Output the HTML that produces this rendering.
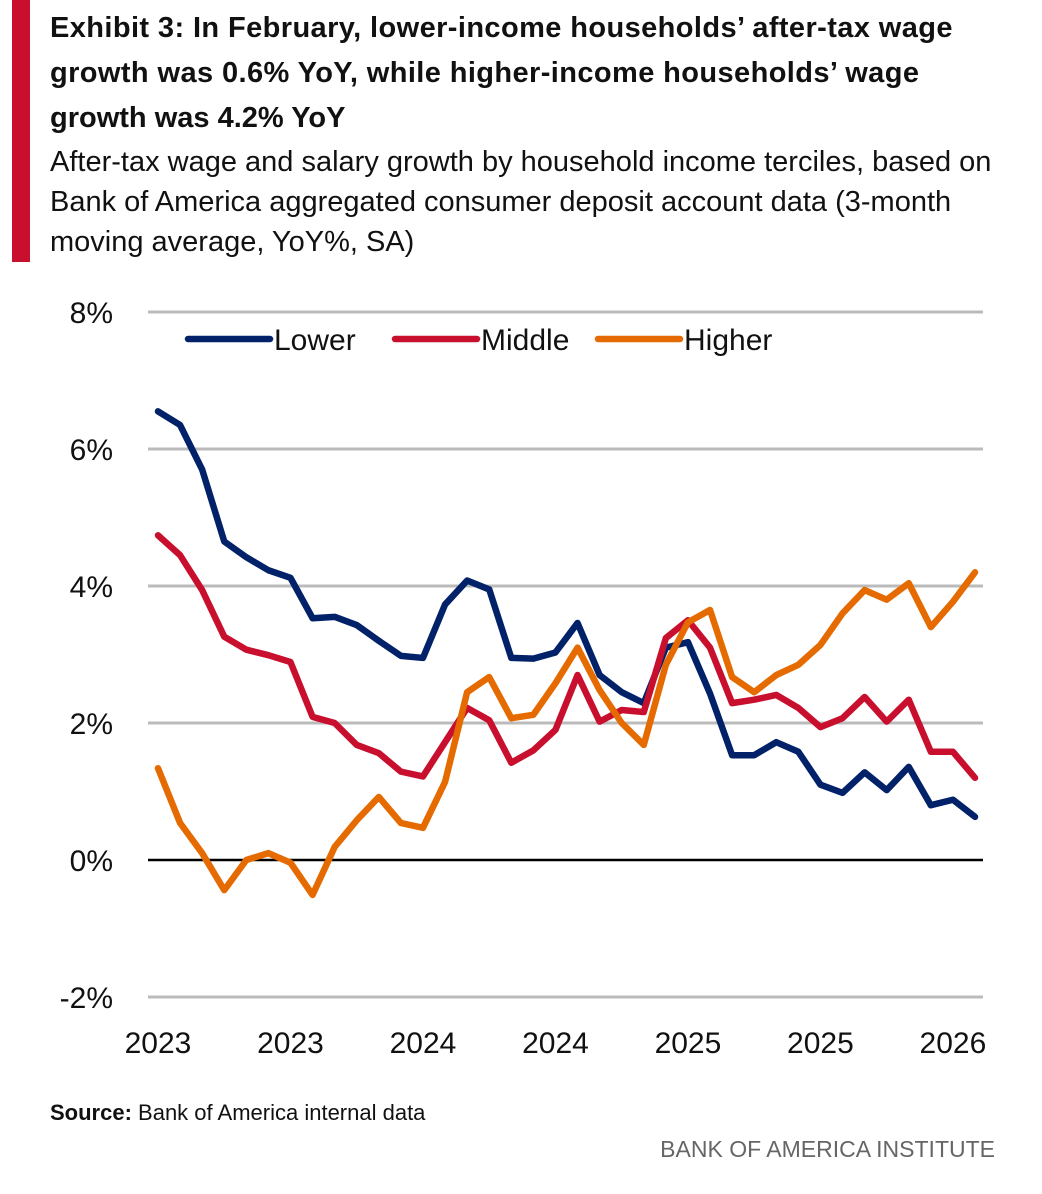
<!DOCTYPE html>
<html><head><meta charset="utf-8"><style>
body{margin:0;width:1042px;height:1194px;background:#fff;position:relative;overflow:hidden;font-family:"Liberation Sans Narrow","Liberation Sans",sans-serif;color:#111}
.bar{position:absolute;left:12px;top:0;width:18px;height:262px;background:#c8102e}
.title{position:absolute;left:50px;top:6px;width:1000px;font-weight:bold;font-size:29px;line-height:45px;white-space:nowrap}
.sub{position:absolute;left:50px;top:142px;width:990px;font-size:29px;line-height:40px}
.src{position:absolute;left:50px;top:1100px;font-size:22px}
.brand{position:absolute;right:47px;top:1136px;font-size:23px;color:#666}
svg{position:absolute;left:0;top:0}
</style></head><body>
<div class="bar"></div>
<div class="title"><span style="letter-spacing:0.4px">Exhibit 3: In February, lower-income households’ after-tax wage</span><br><span style="letter-spacing:0.4px">growth was 0.6% YoY, while higher-income households’ wage</span><br>growth was 4.2% YoY</div>
<div class="sub">After-tax wage and salary growth by household income terciles, based on Bank of America aggregated consumer deposit account data (3-month moving average, YoY%, SA)</div>
<svg id="chart" width="1042" height="1194"></svg>
<div class="src"><b>Source:</b> Bank of America internal data</div>
<div class="brand">BANK OF AMERICA INSTITUTE</div>
<script>
const lower=[6.55,6.35,5.7,4.65,4.42,4.23,4.12,3.53,3.55,3.43,3.2,2.98,2.95,3.73,4.08,3.95,2.95,2.94,3.03,3.46,2.7,2.45,2.29,3.1,3.18,2.43,1.53,1.53,1.72,1.58,1.1,0.98,1.28,1.02,1.36,0.8,0.88,0.63];
const middle=[4.74,4.45,3.94,3.26,3.07,2.99,2.89,2.09,2.0,1.68,1.56,1.29,1.22,1.72,2.22,2.04,1.42,1.6,1.9,2.7,2.02,2.19,2.16,3.24,3.5,3.1,2.29,2.34,2.41,2.22,1.94,2.07,2.38,2.02,2.34,1.58,1.58,1.2];
const higher=[1.34,0.54,0.1,-0.44,0,0.1,-0.04,-0.51,0.19,0.58,0.92,0.54,0.47,1.14,2.45,2.67,2.07,2.12,2.58,3.1,2.48,2.0,1.68,2.85,3.47,3.65,2.67,2.45,2.7,2.85,3.14,3.6,3.94,3.8,4.04,3.4,3.77,4.2];
const yTicks=[8,6,4,2,0,-2];
const yTickLabels=["8%","6%","4%","2%","0%","-2%"];
const xTickIdx=[0,6,12,18,24,30,36];
const xTickLabels=["2023","2023","2024","2024","2025","2025","2026"];
const seriesNames=["Lower","Middle","Higher"];
const seriesColors=["#012169","#c8102e","#e56a00"];
const NS="http://www.w3.org/2000/svg";
const svg=document.getElementById('chart');
const X=i=>158+i*(975-158)/37;
const Y=v=>860-v*68.5;
function mk(t,a){const e=document.createElementNS(NS,t);for(const k in a)e.setAttribute(k,a[k]);svg.appendChild(e);return e;}
yTicks.forEach((v,i)=>{
 const l=mk('line',{x1:148,x2:983,y1:Y(v),y2:Y(v),stroke:v===0?'#000':'#bbb','stroke-width':v===0?2.5:3});
 
 
 const t=mk('text',{x:113,y:Y(v)+11,'text-anchor':'end','font-size':30,fill:'#111','font-family':'Liberation Sans Narrow, Liberation Sans, sans-serif'});
 t.textContent=yTickLabels[i];
 
 
});
xTickIdx.forEach((idx,i)=>{
 const t=mk('text',{x:X(idx),y:1053,'text-anchor':'middle','font-size':30,fill:'#111','font-family':'Liberation Sans Narrow, Liberation Sans, sans-serif'});
 t.textContent=xTickLabels[i];
 
 
});
[lower,middle,higher].forEach((s,k)=>{
 const p=mk('polyline',{points:s.map((v,i)=>X(i)+','+Y(v)).join(' '),fill:'none',stroke:seriesColors[k],'stroke-width':6.5,'stroke-linejoin':'round','stroke-linecap':'round'});
 
 
});
const legX=[188,395,598];
seriesNames.forEach((n,k)=>{
 const l=mk('line',{x1:legX[k],x2:legX[k]+82,y1:339,y2:339,stroke:seriesColors[k],'stroke-width':6.5,'stroke-linecap':'round'});
 
 
 const t=mk('text',{x:legX[k]+86,y:350,'font-size':30,fill:'#111','font-family':'Liberation Sans Narrow, Liberation Sans, sans-serif'});
 t.textContent=n;
 
 
});
</script>
</body></html>
